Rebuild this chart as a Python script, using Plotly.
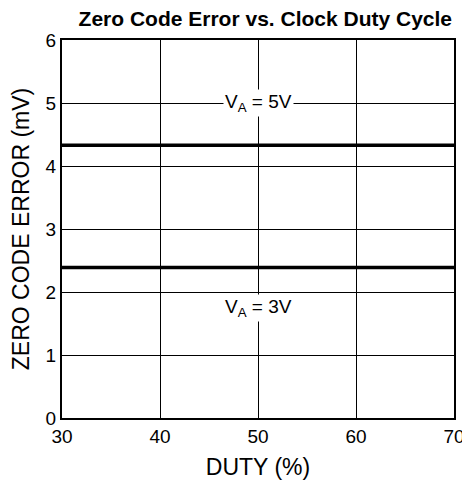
import plotly.graph_objects as go

duty = [30, 70]
err_5v = [4.33, 4.33]
err_3v = [2.39, 2.39]
label_5v = "V<sub>A</sub> = 5V"
label_3v = "V<sub>A</sub> = 3V"
label_pos = [(50, 5.0), (50, 1.75)]

FONT = "Liberation Sans, Arial, sans-serif"

fig = go.Figure()
fig.add_trace(go.Scatter(x=duty, y=err_5v, mode="lines",
                         line=dict(color="black", width=3.5), showlegend=False))
fig.add_trace(go.Scatter(x=duty, y=err_3v, mode="lines",
                         line=dict(color="black", width=3.5), showlegend=False))

for (x, y), t in zip(label_pos, [label_5v, label_3v]):
    fig.add_annotation(x=x, y=y, text=t, showarrow=False, bgcolor="white",
                       font=dict(family=FONT, size=19, color="black"), borderpad=1)

# the page body has an 8px default margin, so the figure is sized to fit
fig.update_layout(
    width=462, height=479,
    margin=dict(l=54, r=16, t=32, b=69, autoexpand=False),
    paper_bgcolor="white", plot_bgcolor="white",
    font=dict(family=FONT, size=19, color="black"),
    title=dict(text="<b>Zero Code Error vs. Clock Duty Cycle</b>",
               x=0.557, xanchor="center", y=0.978, yanchor="middle",
               font=dict(family=FONT, size=21, color="black")),
)
fig.update_xaxes(range=[30, 70], tickvals=[30, 40, 50, 60, 70],
                 showgrid=True, gridcolor="black", gridwidth=1,
                 showline=True, linecolor="black", linewidth=2, mirror=True,
                 ticks="", zeroline=False, automargin=False,
                 title=dict(text="DUTY (%)", standoff=13))
fig.update_yaxes(range=[0, 6], tickvals=[0, 1, 2, 3, 4, 5, 6],
                 showgrid=True, gridcolor="black", gridwidth=1,
                 showline=True, linecolor="black", linewidth=2, mirror=True,
                 ticks="", zeroline=False, automargin=False,
                 title=dict(text="ZERO CODE ERROR (mV)", standoff=12))

fig.write_html("out.html")
